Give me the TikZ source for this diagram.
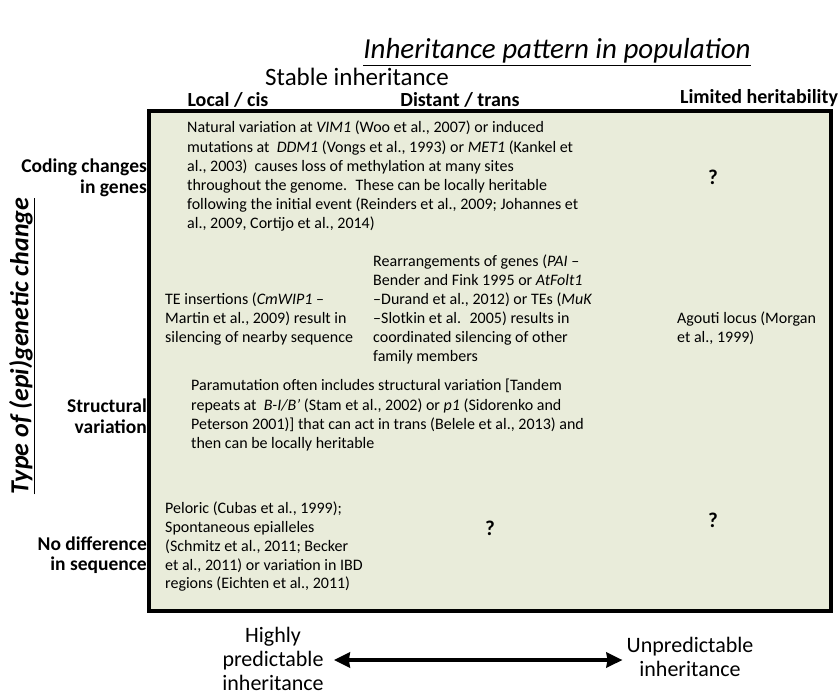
\documentclass[tikz,border=0pt]{standalone}
\usepackage{fontspec}
\setmainfont{Carlito}
\usetikzlibrary{arrows.meta}
\definecolor{boxfill}{RGB}{233,236,218}
\tikzset{
  body/.style={anchor=north west, inner sep=0pt, align=left, font=\fontsize{16}{19.2}\selectfont},
  colhead/.style={inner sep=0pt, font=\fontsize{20}{24}\selectfont\bfseries},
  rowhead/.style={inner sep=0pt, align=right, anchor=east, font=\fontsize{19.5}{21}\selectfont\bfseries},
  qmark/.style={inner sep=0pt, font=\fontsize{21}{24}\selectfont\bfseries},
  axislbl/.style={inner sep=0pt, align=center, font=\fontsize{22}{24}\selectfont},
  bigarrow/.style={line width=4.5pt, {Stealth[length=16pt,width=15pt,inset=1pt]}-{Stealth[length=16pt,width=15pt,inset=1pt]}},
}
\begin{document}
\begin{tikzpicture}[x=1pt,y=-1pt]
\useasboundingbox (0,0) rectangle (840,699);
% title
\node[inner sep=0pt, font=\fontsize{29}{32}\selectfont\itshape] (title) at (557,52) {\underline{Inheritance pattern in population}};
\node[inner sep=0pt, font=\fontsize{25}{28}\selectfont] (stable) at (357,77) {Stable inheritance};
\node[colhead] (local) at (228,100) {Local / cis};
\node[colhead] (distant) at (460,100) {Distant / trans};
\node[colhead] (limited) at (759,98) {Limited heritability};
% box
\draw[line width=3.8pt, fill=boxfill] (149,111) rectangle (831,611);
% row heads
\node[rowhead] (coding) at (147,178) {Coding changes\\in genes};
\node[rowhead] (struct) at (147,416) {Structural\\variation};
\node[rowhead, font=\fontsize{19.5}{20}\selectfont\bfseries] (nodiff) at (147,555) {No difference\\in sequence};
\node[inner sep=0pt, rotate=90, font=\fontsize{26}{28}\selectfont\bfseries\itshape] (type) at (22,346) {\underline{Type of (epi)genetic change}};
% cells
\node[body] (b1) at (187,121) {Natural variation at \textit{VIM1} (Woo et al., 2007) or induced\\
mutations at~ \textit{DDM1} (Vongs et al., 1993) or \textit{MET1} (Kankel et\\
al., 2003)~ causes loss of methylation at many sites\\
throughout the genome.~ These can be locally heritable\\
following the initial event (Reinders et al., 2009; Johannes et\\
al., 2009, Cortijo et al., 2014)};
\node[qmark] (q1) at (713,177) {?};
\node[body, font=\fontsize{16}{19}\selectfont] (b2) at (165,293) {TE insertions (\textit{CmWIP1} --\\
Martin et al., 2009) result in\\
silencing of nearby sequence};
\node[body, font=\fontsize{16}{19}\selectfont] (b3) at (373,255) {Rearrangements of genes (\textit{PAI} --\\
Bender and Fink 1995 or \textit{AtFolt1}\\
--Durand et al., 2012) or TEs (\textit{MuK}\\
--Slotkin et al.~ 2005) results in\\
coordinated silencing of other\\
family members};
\node[body, font=\fontsize{16}{19}\selectfont] (b4) at (677,312) {Agouti locus (Morgan\\
et al., 1999)};
\node[body, font=\fontsize{16}{19.3}\selectfont] (b5) at (191,379) {Paramutation often includes structural variation [Tandem\\
repeats at~ \textit{B-I/B\textquoteright} (Stam et al., 2002) or \textit{p1} (Sidorenko and\\
Peterson 2001)] that can act in trans (Belele et al., 2013) and\\
then can be locally heritable};
\node[body, font=\fontsize{16}{18.75}\selectfont] (b6) at (165,502) {Peloric (Cubas et al., 1999);\\
Spontaneous epialleles\\
(Schmitz et al., 2011; Becker\\
et al., 2011) or variation in IBD\\
regions (Eichten et al., 2011)};
\node[qmark] (q2) at (490,528) {?};
\node[qmark] (q3) at (713,520) {?};
% bottom axis
\node[axislbl] (hp) at (273,659) {Highly\\predictable\\inheritance};
\node[axislbl] (up) at (690,656.5) {Unpredictable\\inheritance};
\coordinate (al) at ([xshift=10pt,yshift=-1pt]hp.east);
\coordinate (ar) at ([xshift=-4pt]up.west |- al);
\draw[bigarrow] (al) -- (ar);
\end{tikzpicture}
\end{document}
